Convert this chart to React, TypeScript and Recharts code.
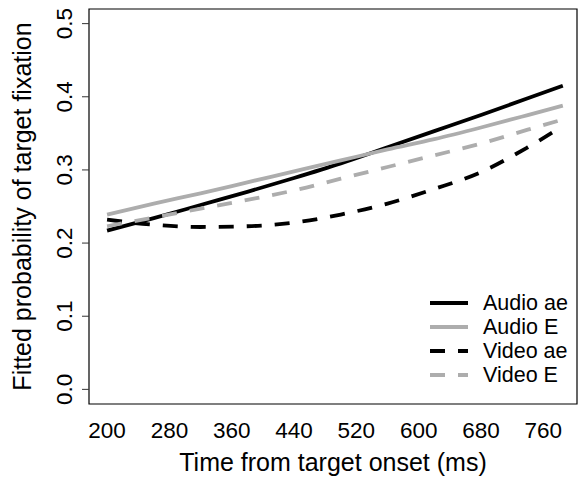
import React from 'react'
import { LineChart, Line, XAxis, YAxis, ReferenceArea, Legend } from 'recharts'

// time points (ms) and fitted probabilities
const times = [200, 260, 320, 380, 440, 500, 560, 620, 680, 740, 785]
const audioAe = [0.217, 0.234, 0.252, 0.27, 0.289, 0.309, 0.331, 0.353, 0.375, 0.398, 0.415]
const audioE = [0.239, 0.254, 0.268, 0.283, 0.298, 0.313, 0.328, 0.342, 0.358, 0.375, 0.388]
const videoAe = [0.232, 0.225, 0.222, 0.223, 0.228, 0.239, 0.254, 0.274, 0.297, 0.331, 0.36]
const videoE = [0.223, 0.235, 0.247, 0.259, 0.272, 0.288, 0.304, 0.32, 0.336, 0.355, 0.369]

const xTicks = [200, 280, 360, 440, 520, 600, 680, 760]
const yTicks = [0, 0.1, 0.2, 0.3, 0.4, 0.5]

const series = [
  { key: 'audioAe', name: 'Audio ae', color: '#000000', dash: undefined },
  { key: 'audioE', name: 'Audio E', color: '#adadad', dash: undefined },
  { key: 'videoAe', name: 'Video ae', color: '#000000', dash: '15 13' },
  { key: 'videoE', name: 'Video E', color: '#adadad', dash: '15 13' },
]

const FONT = '"Liberation Sans", Arial, Helvetica, sans-serif'
const X_DOMAIN: [number, number] = [176.8, 803.2]
const Y_DOMAIN: [number, number] = [-0.02, 0.52]

const data = times.map((t, i) => ({
  t,
  audioAe: audioAe[i],
  audioE: audioE[i],
  videoAe: videoAe[i],
  videoE: videoE[i],
}))

function XTick({ x, payload }: any) {
  return (
    <text x={x} y={438} textAnchor="middle" fontSize={22.5} fontFamily={FONT} fill="#000">
      {payload.value}
    </text>
  )
}

function YTick({ y, payload }: any) {
  return (
    <text
      x={72}
      y={y}
      transform={`rotate(-90, 72, ${y})`}
      textAnchor="middle"
      fontSize={22.5}
      fontFamily={FONT}
      fill="#000"
    >
      {payload.value.toFixed(1)}
    </text>
  )
}

function YTitle(props: any) {
  const vb = props.viewBox
  const cy = vb.y + vb.height / 2
  return (
    <text
      x={31}
      y={cy}
      transform={`rotate(-90, 31, ${cy})`}
      textAnchor="middle"
      fontSize={25}
      fontFamily={FONT}
      fill="#000"
    >
      Fitted probability of target fixation
    </text>
  )
}

function LegendBox() {
  return (
    <div style={{ fontFamily: FONT, fontSize: 21.5, color: '#000' }}>
      {series.map((s) => (
        <div key={s.key} style={{ display: 'flex', alignItems: 'center', height: 24 }}>
          <svg width={40} height={8} style={{ marginRight: 14 }}>
            <line x1={1} y1={4} x2={39} y2={4} stroke={s.color} strokeWidth={3.8} strokeDasharray={s.dash} />
          </svg>
          <span style={{ lineHeight: '24px' }}>{s.name}</span>
        </div>
      ))}
    </div>
  )
}

export default function App() {
  return (
    <div style={{ position: 'absolute', left: 0, top: 0, width: 579, height: 486, background: '#fff' }}>
      <LineChart width={579} height={486} data={data} margin={{ top: 9, right: 2, bottom: 0, left: 0 }}>
        <XAxis
          dataKey="t"
          type="number"
          domain={X_DOMAIN}
          ticks={xTicks}
          interval={0}
          axisLine={false}
          tickLine={false}
          height={82}
          tick={<XTick />}
          label={{
            value: 'Time from target onset (ms)',
            position: 'insideBottom',
            offset: 15,
            fontSize: 25,
            fontFamily: FONT,
            fill: '#000',
          }}
        />
        <YAxis
          type="number"
          domain={Y_DOMAIN}
          ticks={yTicks}
          interval={0}
          width={89}
          axisLine={false}
          tickSize={7}
          tickLine={{ stroke: '#333', strokeWidth: 1 }}
          tick={<YTick />}
          label={{ content: (p: any) => <YTitle {...p} /> }}
        />
        <ReferenceArea
          x1={X_DOMAIN[0]}
          x2={X_DOMAIN[1]}
          y1={Y_DOMAIN[0]}
          y2={Y_DOMAIN[1]}
          stroke="#000"
          strokeWidth={1.2}
          fill="none"
          fillOpacity={0}
        />
        {series.map((s) => (
          <Line
            key={s.key}
            dataKey={s.key}
            name={s.name}
            type="monotone"
            stroke={s.color}
            strokeWidth={3.8}
            strokeDasharray={s.dash}
            dot={false}
            activeDot={false}
            isAnimationActive={false}
          />
        ))}
        <Legend
          layout="vertical"
          align="center"
          verticalAlign="middle"
          wrapperStyle={{ left: 429, top: 291, width: 150 }}
          content={() => <LegendBox />}
        />
      </LineChart>
    </div>
  )
}
